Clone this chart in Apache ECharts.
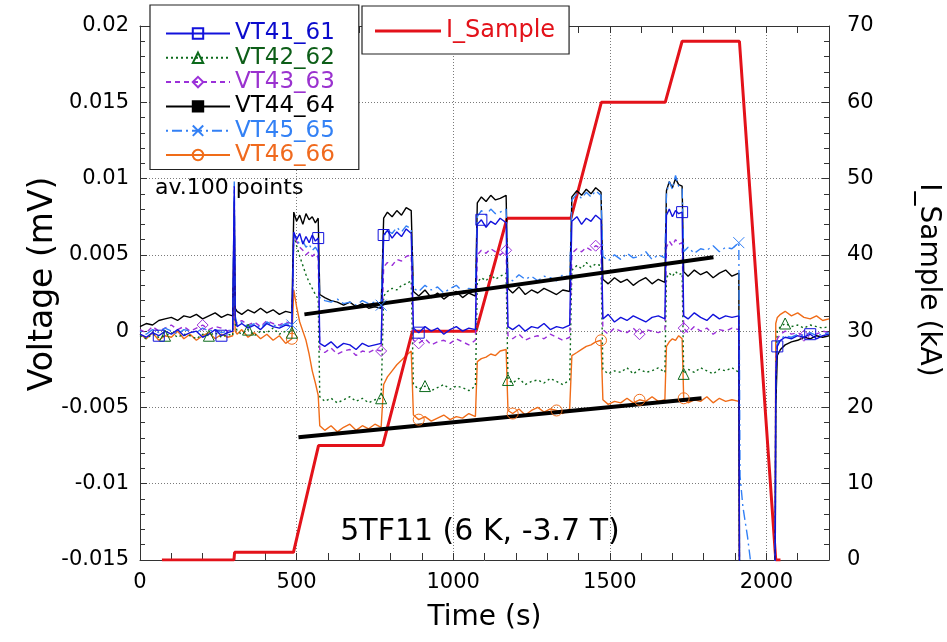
<!DOCTYPE html>
<html><head><meta charset="utf-8">
<script src="https://cdn.jsdelivr.net/npm/echarts@6/dist/echarts.min.js"></script>
<style>html,body{margin:0;padding:0;background:#fff;overflow:hidden}#c{width:947px;height:642px}</style>
</head><body><div id="c"></div>
<script>
// ---- Time grid (s), shared by the voltage traces ----
const T = [
 0,20,40,60,80,100,120,140,160,180,200,220,240,260,280,296,
 301,304,
 310,325,345,365,385,405,425,445,465,485,
 491,500,510,520,530,540,550,560,569,
 574,590,610,630,650,670,690,710,730,750,770,
 778,790,805,820,835,850,866,
 873,890,910,930,950,970,990,1010,1030,1050,1071,
 1077,1090,1105,1120,1135,1150,1169,
 1175,1190,1210,1230,1250,1270,1290,1310,1330,1350,1372,
 1379,1395,1410,1425,1440,1455,1472,
 1478,1495,1515,1535,1555,1575,1595,1615,1635,1655,1676,
 1681,1690,1700,1710,1720,1731,
 1736,1750,1770,1790,1810,1830,1850,1870,1890,1912,
 1916,1925,1940,1955,2026,
 2030,2035,2045,2060,2080,2100,2120,2140,2160,2180,2200
];
// ---- Voltage traces in µV (0.001 mV) ----
const VT41_61 = [
 -0.2,-0.4,-0.1,-0.3,0.0,-0.2,0.1,-0.3,-0.1,0.0,-0.4,-0.2,0.1,-0.3,-0.1,0.0,
 9.5,0.8,
 0.3,0.5,0.2,0.4,0.1,0.5,0.3,0.2,0.4,0.3,
 6.5,6.0,6.4,5.7,6.2,5.8,6.3,5.9,6.1,
 -0.8,-1.0,-0.7,-1.1,-0.8,-0.9,-1.2,-0.8,-1.0,-0.9,-0.8,
 6.3,6.6,6.1,6.5,6.2,6.7,6.4,
 0.2,-0.1,0.3,0.0,0.2,-0.2,0.1,0.3,0.0,0.2,0.1,
 7.0,7.3,6.8,7.2,7.0,7.4,7.1,
 0.3,0.1,0.4,0.0,0.3,0.2,0.5,0.1,0.3,0.2,0.4,
 7.2,7.5,7.0,7.4,7.2,7.6,7.3,
 0.8,1.1,0.6,0.9,0.7,1.0,0.8,0.6,0.9,1.0,0.8,
 7.6,8.0,7.5,7.9,7.7,7.8,
 1.0,0.8,1.2,0.9,0.7,1.1,0.8,1.0,0.9,1.0,
 -30,-30,-30,-30,-30,
 -3.0,-1.0,-0.6,-0.4,-0.5,-0.3,-0.4,-0.2,-0.5,-0.3,-0.2
];
const VT42_62 = [
 -0.3,-0.5,-0.2,-0.4,-0.3,-0.1,-0.4,-0.2,-0.3,-0.5,-0.2,-0.3,-0.1,-0.4,-0.2,-0.3,
 6.5,0.5,
 0.0,-0.2,0.1,-0.3,0.0,-0.1,0.2,-0.2,0.0,-0.1,
 6.4,5.6,4.9,4.3,3.7,3.2,2.8,2.4,2.1,
 -4.3,-4.6,-4.4,-4.7,-4.5,-4.3,-4.6,-4.4,-4.7,-4.5,-4.4,
 2.3,2.6,2.8,2.7,3.0,3.1,3.3,
 -3.5,-3.8,-3.6,-3.9,-3.7,-3.5,-3.8,-3.6,-3.7,-3.9,-3.6,
 3.2,3.5,3.3,3.7,3.4,3.6,3.8,
 -3.2,-3.4,-3.1,-3.5,-3.3,-3.2,-3.4,-3.1,-3.3,-3.5,-3.2,
 4.0,4.3,4.1,4.5,4.2,4.4,4.3,
 -2.5,-2.8,-2.6,-2.7,-2.4,-2.8,-2.5,-2.7,-2.6,-2.4,-2.7,
 3.5,3.8,3.6,3.9,3.7,3.8,
 -2.8,-2.5,-2.7,-2.4,-2.6,-2.8,-2.5,-2.6,-2.4,-2.7,
 -30,-30,-30,-30,-30,
 -2.5,0.0,0.3,0.5,0.3,0.4,0.2,0.4,0.3,0.2,0.3
];
const VT43_63 = [
 0.1,-0.1,0.3,0.0,0.2,0.4,0.1,0.3,0.0,0.2,0.4,0.1,0.3,0.2,0.0,0.2,
 7.0,0.8,
 0.5,0.7,0.4,0.6,0.3,0.7,0.5,0.4,0.6,0.5,
 6.3,5.9,5.5,5.3,5.0,5.2,4.9,5.1,4.8,
 -1.2,-1.4,-1.1,-1.5,-1.3,-1.2,-1.6,-1.3,-1.4,-1.2,-1.3,
 4.2,4.5,4.3,4.7,4.6,4.9,5.0,
 -0.6,-0.8,-0.5,-0.9,-0.7,-0.6,-0.8,-0.5,-0.7,-0.9,-0.6,
 5.0,5.3,5.1,5.4,5.2,5.0,5.3,
 -0.3,-0.5,-0.2,-0.6,-0.4,-0.3,-0.5,-0.2,-0.4,-0.6,-0.4,
 5.1,5.4,5.2,5.5,5.3,5.6,5.4,
 0.1,-0.2,0.2,0.0,-0.1,0.2,-0.2,0.1,0.0,-0.1,0.1,
 5.5,5.9,5.6,6.0,5.7,5.8,
 0.2,-0.1,0.3,0.0,0.2,-0.2,0.1,0.0,0.2,0.1,
 -30,-30,-30,-30,-30,
 -2.0,-0.5,-0.2,0.0,-0.2,-0.1,-0.3,-0.1,-0.2,0.0,-0.1
];
const VT44_64 = [
 0.3,0.5,0.4,0.7,0.8,0.9,0.7,1.0,0.9,1.1,0.8,1.0,1.2,0.9,1.1,1.0,
 8.5,1.5,
 1.3,1.1,1.4,1.2,1.5,1.2,1.4,1.1,1.3,1.2,
 7.8,7.2,7.6,7.0,7.7,7.3,7.5,7.1,7.4,
 2.4,2.2,2.0,1.9,1.7,1.9,1.6,1.8,1.5,1.6,1.5,
 7.4,7.8,7.5,7.9,7.6,8.1,7.9,
 2.6,2.3,2.7,2.2,2.5,2.1,2.4,2.6,2.2,2.5,2.3,
 8.4,8.8,8.5,8.9,8.6,8.7,8.9,
 2.8,2.5,2.9,2.4,2.7,2.5,2.8,2.6,2.4,2.7,2.6,
 8.8,9.2,8.9,9.3,9.0,9.4,9.1,
 3.4,3.1,3.5,3.2,3.4,3.0,3.3,3.5,3.1,3.4,3.2,
 9.2,9.8,9.4,10.0,9.6,9.5,
 3.9,3.6,4.0,3.7,3.9,3.5,3.8,4.0,3.6,3.8,
 -30,-30,-30,-30,-30,
 -5.0,-1.6,-1.2,-0.9,-0.7,-0.6,-0.4,-0.5,-0.3,-0.4,-0.3
];
const VT45_65 = [
 0.0,-0.2,0.1,-0.1,0.2,0.0,-0.2,0.1,0.0,-0.1,0.2,0.0,0.1,-0.1,0.0,0.1,
 9.8,1.0,
 0.4,0.6,0.3,0.5,0.2,0.6,0.4,0.3,0.5,0.4,
 6.4,6.0,5.7,5.9,5.5,5.7,5.3,5.5,5.2,
 2.2,2.0,1.9,2.1,1.8,1.9,1.7,2.0,1.8,1.9,1.7,
 6.2,6.6,6.4,6.8,6.5,6.9,6.7,
 2.8,2.6,3.0,2.7,2.9,2.5,2.8,3.0,2.6,2.8,2.7,
 7.5,7.9,7.6,8.0,7.7,7.8,8.0,
 3.5,3.3,3.7,3.4,3.6,3.3,3.6,3.5,3.3,3.7,3.5,
 8.6,9.0,8.7,9.1,8.8,9.2,8.9,
 4.9,4.6,5.0,4.7,5.1,4.8,4.9,5.2,4.7,5.0,4.8,
 9.0,9.8,9.3,10.2,9.5,9.4,
 5.2,5.5,5.1,5.4,5.3,5.6,5.2,5.5,5.4,5.8,
 -9.5,-11.5,-13.5,-16,-30,
 -3.0,-0.8,-0.5,-0.3,-0.4,-0.2,-0.3,-0.1,-0.3,-0.2,-0.1
];
const VT46_66 = [
 -0.2,-0.5,-0.1,-0.6,-0.3,-0.4,0.0,-0.5,-0.2,-0.6,-0.3,-0.1,-0.5,-0.2,-0.4,-0.3,
 3.2,0.0,
 -0.2,0.1,-0.4,-0.1,-0.5,-0.2,-0.6,-0.3,-0.8,-0.5,
 2.7,1.6,0.6,0.0,-0.6,-1.5,-2.6,-3.4,-4.2,
 -6.2,-6.5,-6.2,-6.6,-6.3,-6.1,-6.5,-6.2,-6.4,-6.1,-6.3,
 -3.5,-3.0,-2.6,-2.2,-1.9,-1.6,-1.3,
 -5.5,-5.8,-5.6,-5.9,-5.7,-5.5,-5.8,-5.6,-5.7,-5.4,-5.6,
 -2.0,-1.8,-1.7,-1.5,-1.6,-1.3,-1.2,
 -5.2,-5.4,-5.1,-5.5,-5.2,-5.0,-5.3,-5.1,-5.2,-5.4,-5.1,
 -1.6,-1.4,-1.2,-1.0,-0.9,-0.7,-0.6,
 -4.5,-4.8,-4.6,-4.7,-4.4,-4.7,-4.5,-4.6,-4.3,-4.6,-4.5,
 -1.0,-0.7,-0.5,-0.6,-0.3,-0.5,
 -4.4,-4.7,-4.5,-4.6,-4.3,-4.7,-4.4,-4.6,-4.5,-4.6,
 -30,-30,-30,-30,-30,
 0.5,0.9,1.1,1.3,1.0,1.2,0.9,0.8,1.0,0.7,0.8
];
// ---- Marker times (s) for each trace ----
const MARK41 = [70, 262, 568, 780, 882, 1090, 1729, 2038, 2150];
const MARK42 = [73, 213, 350, 487, 764, 901, 1180, 1735, 2060];
const MARK43 = [207, 774, 892, 1172, 1455, 1592, 1735, 2125];
const MARK44 = [];
const MARK45 = [487, 764, 1905];
const MARK46 = [487, 898, 1184, 1328, 1465, 1602, 1741];
// ---- Sample current (kA) ----
const I_T = [70, 300, 302, 490, 570, 775, 870, 1073, 1172, 1376, 1473, 1677, 1731, 1914, 2030, 2045];
const I_kA = [0, 0, 1.0, 1.0, 15, 15, 30, 30, 44.8, 44.8, 60, 60, 68, 68, 0, 0];
// ---- Trend lines (s, µV) ----
const TREND_UP = [[525, 1.1], [1831, 4.85]];
const TREND_LOW = [[506, -6.95], [1793, -4.4]];
// ---- Axis ticks ----
const X_MIN = 0, X_MAX = 2200, X_LABEL_STEP = 500;
const V_MIN = -0.015, V_MAX = 0.02, V_STEP = 0.005;
const I_MIN = 0, I_MAX = 70, I_STEP = 10;

const FONT = 'DejaVu Sans';
const chart = echarts.init(document.getElementById('c'), null, {renderer: 'canvas'});

function nearestIdx(t) {
  let b = 0;
  for (let i = 1; i < T.length; i++) if (Math.abs(T[i] - t) < Math.abs(T[b] - t)) b = i;
  return b;
}
function trace(name, vals, color, symbol, size, lineType, marks, fill) {
  const set = new Set(marks.map(nearestIdx));
  return {
    name, type: 'line', xAxisIndex: 0, yAxisIndex: 0,
    symbol, symbolSize: size, showSymbol: true, symbolKeepAspect: true,
    data: T.map((t, i) => ({value: [t, vals[i] / 1000], symbol: set.has(i) ? symbol : 'none'})),
    lineStyle: {color, width: 1.4, type: lineType},
    itemStyle: {color: fill || 'rgba(255,255,255,0)', borderColor: color, borderWidth: 1},
    emphasis: {disabled: true}, animation: false, silent: true
  };
}
const C41 = '#1212dc', C42 = '#0c6a1c', C43 = '#9b30d9', C44 = '#000000', C45 = '#3380f5', C46 = '#f06c18', CI = '#e3121a';

const series = [
  trace('VT46_66', VT46_66, C46, 'circle', 11, 'solid', MARK46),
  {name: 'I_Sample', type: 'line', xAxisIndex: 0, yAxisIndex: 1, symbol: 'none',
   data: I_T.map((t, i) => [t, I_kA[i]]), lineStyle: {color: CI, width: 3}, itemStyle: {color: CI},
   emphasis: {disabled: true}, animation: false, silent: true},
  trace('VT42_62', VT42_62, C42, 'triangle', 11, [2, 3], MARK42),
  trace('VT43_63', VT43_63, C43, 'diamond', 11, [5, 4], MARK43),
  trace('VT44_64', VT44_64, C44, 'path://M0,0h1v10h-1z', 12, 'solid', MARK44, '#000'),
  trace('VT45_65', VT45_65, C45, 'path://M0,0L10,10M10,0L0,10', 11, [2, 4, 10, 4], MARK45),
  trace('VT41_61', VT41_61, C41, 'rect', 11, 'solid', MARK41),
  {type: 'line', xAxisIndex: 0, yAxisIndex: 0, symbol: 'none', data: TREND_UP.map(p => [p[0], p[1] / 1000]),
   lineStyle: {color: '#000', width: 4}, animation: false, silent: true},
  {type: 'line', xAxisIndex: 0, yAxisIndex: 0, symbol: 'none', data: TREND_LOW.map(p => [p[0], p[1] / 1000]),
   lineStyle: {color: '#000', width: 4}, animation: false, silent: true}
];

const axisLine = {show: true, onZero: false, lineStyle: {color: '#333', width: 1}};
const tick = {show: true, inside: true, length: 7, lineStyle: {color: '#333'}};
const minor = {show: true, splitNumber: 5, length: 5, lineStyle: {color: '#333'}};
const dotted = {show: true, lineStyle: {color: '#7a7a7a', width: 1, type: [1, 2]}};

chart.setOption({
  backgroundColor: '#fff',
  animation: false,
  grid: {left: 140, right: 118, top: 26, bottom: 82, containLabel: false, outerBoundsMode: 'none'},
  xAxis: [
    {type: 'value', min: X_MIN, max: X_MAX, interval: 100, position: 'bottom',
     axisLine, axisTick: tick, splitLine: {show: false},
     axisLabel: {formatter: v => (v % X_LABEL_STEP === 0 ? String(v) : ''), fontSize: 21, fontFamily: FONT, color: '#000', margin: 12},
     name: 'Time (s)', nameLocation: 'middle', nameGap: 44,
     nameTextStyle: {fontSize: 28, fontFamily: FONT, color: '#000'}},
    {type: 'value', min: X_MIN, max: X_MAX, interval: 100, position: 'top',
     axisLine, axisTick: tick, axisLabel: {show: false}, splitLine: {show: false}},
    {type: 'value', min: X_MIN, max: X_MAX, interval: X_LABEL_STEP, position: 'bottom',
     axisLine: {show: false, onZero: false}, axisTick: {show: false}, axisLabel: {show: false}, splitLine: dotted}
  ],
  yAxis: [
    {type: 'value', min: V_MIN, max: V_MAX, interval: V_STEP, position: 'left',
     axisLine, axisTick: tick, minorTick: minor, splitLine: dotted,
     axisLabel: {fontSize: 21, fontFamily: FONT, color: '#000', margin: 11},
     name: 'Voltage (mV)', nameLocation: 'middle', nameGap: 80, nameRotate: 90, nameMoveOverlap: false,
     nameTextStyle: {fontSize: 33, fontFamily: FONT, color: '#000', padding: [0, 0, 0, 18]}},
    {type: 'value', min: I_MIN, max: I_MAX, interval: I_STEP, position: 'right',
     axisLine, axisTick: tick, minorTick: minor, splitLine: {show: false},
     axisLabel: {fontSize: 21, fontFamily: FONT, color: '#000', margin: 18},
     name: 'I_Sample (kA)', nameLocation: 'middle', nameGap: 85, nameRotate: -90,
     nameTextStyle: {fontSize: 28, fontFamily: FONT, color: '#000', padding: [0, 26, 0, 0]}}
  ],
  legend: [
    {orient: 'vertical', left: 150, top: 5, itemWidth: 64, itemHeight: 13, itemGap: 1.3,
     padding: [17, 24, 3, 15], borderColor: '#222', borderWidth: 1.2, backgroundColor: '#fff',
     selectedMode: false,
     textStyle: {fontSize: 23, fontFamily: FONT, lineHeight: 23},
     data: [
       {name: 'VT41_61', textStyle: {color: '#0b0bcc'}},
       {name: 'VT42_62', textStyle: {color: '#0d5e18'}},
       {name: 'VT43_63', textStyle: {color: '#9a32cf'}},
       {name: 'VT44_64', textStyle: {color: '#000'}},
       {name: 'VT45_65', textStyle: {color: '#3381f5'}},
       {name: 'VT46_66', textStyle: {color: '#f06a1e'}}
     ]},
    {orient: 'vertical', left: 362, top: 6, itemWidth: 66, itemHeight: 3, icon: 'rect',
     padding: [13, 14, 11, 13], borderColor: '#222', borderWidth: 1.2, backgroundColor: '#fff',
     selectedMode: false,
     textStyle: {fontSize: 24, fontFamily: FONT, color: CI, lineHeight: 24},
     data: [{name: 'I_Sample', textStyle: {color: CI}}]}
  ],
  graphic: [
    {type: 'text', left: 155, top: 177, z: 10, silent: true,
     style: {text: 'av.100 points', font: '22px "DejaVu Sans"', fill: '#000'}},
    {type: 'text', x: 480, y: 532, z: 10, silent: true,
     style: {text: '5TF11 (6 K, -3.7 T)', font: '30px "DejaVu Sans"', fill: '#000', textAlign: 'center', textVerticalAlign: 'middle'}}
  ],
  series
});
</script>
</body></html>
